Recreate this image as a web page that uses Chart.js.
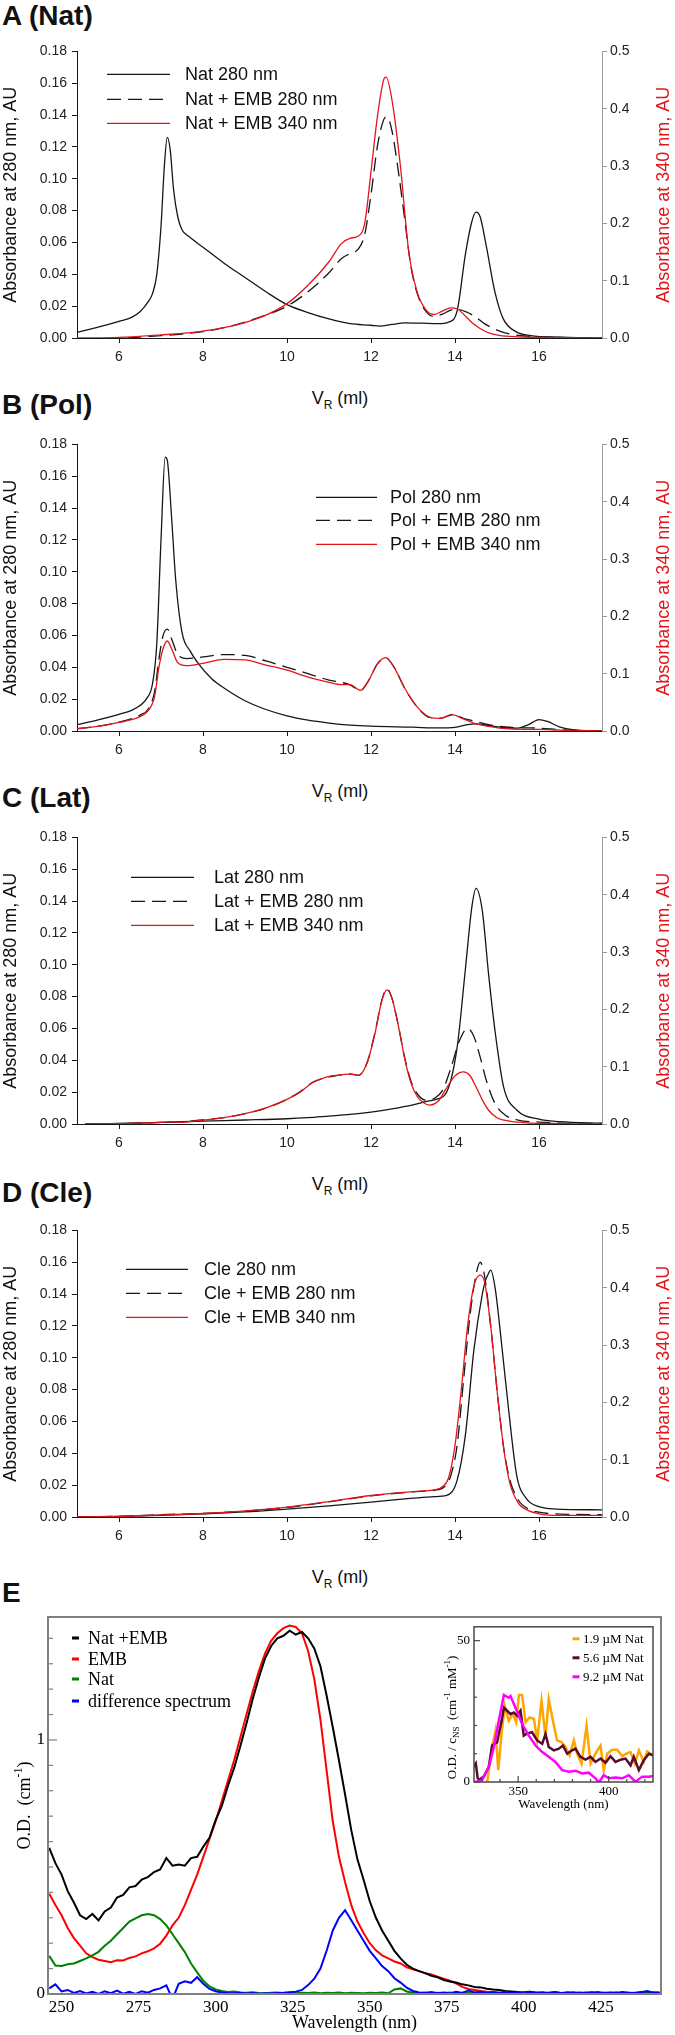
<!DOCTYPE html>
<html>
<head>
<meta charset="utf-8">
<title>SEC profiles and absorption spectra</title>
<script src="https://cdn.jsdelivr.net/npm/chart.js@4.4.1/dist/chart.umd.min.js"></script>
<style>
  body { margin: 0; background: #fff; }
  #page { position: relative; width: 675px; height: 2035px; overflow: hidden; background: #fff; }
  canvas { position: absolute; }
  .panel-label { position: absolute; left: 2px; font: bold 28px "Liberation Sans", Arial, sans-serif; line-height: 28px; color: #111; }
  .vr { position: absolute; left: 240px; width: 200px; text-align: center; font: 18px "Liberation Sans", Arial, sans-serif; line-height: 18px; color: #111; }
  .vr sub { font-size: 12px; vertical-align: -5px; line-height: 0; }
</style>
</head>
<body>
<div id="page">
  <div class="panel-label" style="top:2px">A (Nat)</div>
  <canvas id="chartA" width="675" height="348" style="left:0;top:38px"></canvas>
  <div class="vr" style="top:389px">V<sub>R</sub> (ml)</div>

  <div class="panel-label" style="top:391px">B (Pol)</div>
  <canvas id="chartB" width="675" height="348" style="left:0;top:431px"></canvas>
  <div class="vr" style="top:782px">V<sub>R</sub> (ml)</div>

  <div class="panel-label" style="top:784px">C (Lat)</div>
  <canvas id="chartC" width="675" height="348" style="left:0;top:824px"></canvas>
  <div class="vr" style="top:1175px">V<sub>R</sub> (ml)</div>

  <div class="panel-label" style="top:1179px">D (Cle)</div>
  <canvas id="chartD" width="675" height="348" style="left:0;top:1217px"></canvas>
  <div class="vr" style="top:1568px">V<sub>R</sub> (ml)</div>

  <div class="panel-label" style="top:1579px">E</div>
  <canvas id="chartE" width="675" height="435" style="left:0;top:1600px"></canvas>
  <canvas id="chartInset" width="230" height="205" style="left:430px;top:1615px"></canvas>
</div>

<script>
// ---- tick values ----
const vrTicks = [6, 8, 10, 12, 14, 16];
const abs280Ticks = [0, 0.02, 0.04, 0.06, 0.08, 0.10, 0.12, 0.14, 0.16, 0.18];
const abs340Ticks = [0, 0.1, 0.2, 0.3, 0.4, 0.5];
const waveTicks = [250, 275, 300, 325, 350, 375, 400, 425];
const odTicks = [0, 1];
const odMinorTicks = [0.1, 0.2, 0.3, 0.4, 0.5, 0.6, 0.7, 0.8, 0.9, 1.1, 1.2, 1.3, 1.4];
const insetWaveTicks = [350, 400];
const insetWaveMinor = [330, 340, 360, 370, 380, 390, 410, 420];
const insetTicks = [0, 50];
const insetMinor = [10, 20, 30, 40];

// ---- A (Nat): [V_R ml, absorbance] ----
const nat280 = [[5,0.0035],[5.5,0.0068],[6,0.0105],[6.3,0.013],[6.5,0.0165],[6.7,0.023],[6.8,0.028],[6.9,0.04],[7.0,0.07],[7.08,0.108],[7.15,0.126],[7.22,0.118],[7.3,0.093],[7.4,0.076],[7.5,0.068],[7.65,0.064],[8,0.057],[8.5,0.047],[9,0.038],[9.5,0.029],[10,0.021],[10.5,0.016],[11,0.012],[11.5,0.009],[12,0.008],[12.2,0.0075],[12.5,0.0085],[12.8,0.0095],[13.2,0.0093],[13.6,0.009],[13.85,0.01],[14.05,0.017],[14.25,0.053],[14.4,0.073],[14.5,0.079],[14.6,0.076],[14.75,0.057],[14.95,0.029],[15.15,0.012],[15.45,0.004],[15.8,0.0015],[16.5,0.0005],[17.5,0]];
const natEmb280 = [[6.2,0],[6.5,0.0006],[7,0.0015],[7.5,0.0025],[8,0.004],[8.5,0.0065],[9,0.01],[9.5,0.0145],[10,0.02],[10.5,0.029],[11,0.041],[11.3,0.05],[11.5,0.053],[11.7,0.056],[11.85,0.065],[12,0.09],[12.15,0.12],[12.3,0.137],[12.38,0.139],[12.5,0.13],[12.65,0.105],[12.8,0.075],[12.95,0.045],[13.1,0.028],[13.3,0.017],[13.5,0.0135],[13.7,0.015],[13.9,0.0175],[14.05,0.018],[14.3,0.016],[14.5,0.013],[14.7,0.009],[15,0.005],[15.3,0.0025],[15.7,0.0012],[16.5,0.0004],[17.5,0]];
const natEmb340 = [[5,0],[6,0.001],[7,0.0055],[7.5,0.008],[8,0.012],[8.5,0.018],[9,0.027],[9.5,0.04],[10,0.06],[10.5,0.092],[11,0.133],[11.3,0.165],[11.5,0.174],[11.7,0.178],[11.85,0.2],[12,0.29],[12.15,0.385],[12.3,0.45],[12.36,0.455],[12.5,0.415],[12.7,0.3],[12.9,0.15],[13.1,0.08],[13.3,0.05],[13.5,0.041],[13.7,0.047],[13.9,0.0525],[14.05,0.051],[14.25,0.038],[14.45,0.024],[14.75,0.0105],[15.05,0.0045],[15.5,0.002],[16.5,0.0008],[17.5,0]];

// ---- B (Pol) ----
const pol280 = [[5,0.004],[5.5,0.007],[6,0.0105],[6.3,0.013],[6.5,0.016],[6.65,0.02],[6.8,0.03],[6.9,0.055],[7.0,0.12],[7.1,0.172],[7.15,0.17],[7.25,0.135],[7.35,0.095],[7.5,0.062],[7.7,0.05],[7.9,0.042],[8.2,0.033],[8.5,0.027],[9,0.019],[9.5,0.0135],[10,0.0095],[10.5,0.0068],[11,0.005],[11.5,0.0037],[12,0.003],[13,0.0024],[13.6,0.0019],[14,0.0023],[14.3,0.004],[14.5,0.0045],[14.8,0.0035],[15.2,0.002],[15.5,0.0018],[15.75,0.004],[16,0.0072],[16.2,0.006],[16.5,0.0025],[16.8,0.0008],[17.5,0]];
const polEmb280 = [[5,0.0015],[5.5,0.003],[6,0.0055],[6.5,0.01],[6.7,0.014],[6.85,0.025],[6.95,0.045],[7.05,0.06],[7.15,0.064],[7.25,0.058],[7.4,0.048],[7.6,0.0455],[8,0.0465],[8.5,0.048],[9,0.0475],[9.5,0.044],[10,0.04],[10.5,0.036],[11,0.032],[11.3,0.0305],[11.5,0.029],[11.75,0.0255],[11.95,0.032],[12.15,0.042],[12.35,0.046],[12.55,0.04],[12.8,0.027],[13.1,0.015],[13.4,0.0085],[13.65,0.008],[13.95,0.0105],[14.2,0.008],[14.5,0.006],[14.8,0.004],[15.2,0.0025],[15.6,0.002],[16,0.0018],[16.5,0.0008],[17,0.0002],[17.5,0]];
const polEmb340 = [[5,0.004],[5.5,0.008],[6,0.015],[6.5,0.025],[6.7,0.036],[6.85,0.061],[6.95,0.111],[7.05,0.144],[7.15,0.157],[7.25,0.144],[7.4,0.119],[7.6,0.114],[8,0.118],[8.5,0.125],[9,0.124],[9.5,0.115],[10,0.106],[10.5,0.094],[11,0.085],[11.3,0.081],[11.5,0.081],[11.75,0.071],[11.95,0.089],[12.15,0.117],[12.35,0.128],[12.55,0.111],[12.8,0.075],[13.1,0.042],[13.4,0.024],[13.65,0.022],[13.95,0.028],[14.2,0.021],[14.5,0.0125],[14.8,0.008],[15.2,0.004],[15.6,0.003],[16,0.003],[16.5,0.0014],[17.5,0]];

// ---- C (Lat) ----
const lat280 = [[5.2,0],[6,0.0003],[7,0.001],[8,0.0018],[9,0.0025],[10,0.0033],[10.5,0.004],[11,0.005],[11.5,0.006],[12,0.0075],[12.5,0.0095],[13,0.012],[13.3,0.014],[13.55,0.0155],[13.8,0.02],[14.05,0.048],[14.25,0.098],[14.4,0.136],[14.5,0.148],[14.65,0.134],[14.8,0.094],[14.96,0.057],[15.16,0.023],[15.47,0.0088],[16,0.003],[16.5,0.0015],[17.5,0.0005]];
const latEmb280 = [[5.2,0],[6.5,0.0005],[7,0.001],[7.5,0.0015],[8,0.0025],[8.5,0.004],[9,0.0065],[9.5,0.01],[10,0.0155],[10.3,0.02],[10.6,0.026],[10.9,0.029],[11.2,0.0305],[11.5,0.0315],[11.7,0.0305],[11.9,0.038],[12.1,0.058],[12.25,0.077],[12.38,0.085],[12.5,0.079],[12.65,0.062],[12.8,0.042],[12.95,0.027],[13.1,0.019],[13.3,0.015],[13.5,0.016],[13.7,0.021],[13.9,0.035],[14.1,0.052],[14.3,0.06],[14.45,0.055],[14.6,0.042],[14.75,0.027],[14.95,0.013],[15.2,0.0055],[15.5,0.0025],[16,0.0012],[16.5,0.0006],[17.5,0.0003]];
const latEmb340 = [[5.2,0],[6.5,0.0014],[7,0.003],[7.2,0.004],[7.5,0.003],[8,0.007],[8.5,0.011],[9,0.018],[9.5,0.028],[10,0.043],[10.3,0.055],[10.6,0.072],[10.9,0.081],[11.2,0.085],[11.5,0.087],[11.7,0.085],[11.9,0.105],[12.1,0.16],[12.25,0.213],[12.38,0.234],[12.5,0.219],[12.65,0.172],[12.8,0.115],[12.95,0.072],[13.1,0.048],[13.25,0.037],[13.4,0.033],[13.6,0.04],[13.8,0.063],[14,0.084],[14.2,0.091],[14.35,0.085],[14.5,0.065],[14.65,0.042],[14.8,0.024],[15,0.011],[15.3,0.005],[15.7,0.002],[16.5,0.0008],[17.5,0]];

// ---- D (Cle) ----
const cle280 = [[5,0],[6,0.0004],[7,0.001],[8,0.002],[9,0.0032],[10,0.005],[11,0.007],[12,0.0093],[13,0.0118],[13.5,0.0128],[13.8,0.0136],[14.05,0.023],[14.25,0.052],[14.45,0.105],[14.65,0.14],[14.72,0.148],[14.78,0.152],[14.85,0.155],[14.96,0.143],[15.1,0.111],[15.27,0.069],[15.47,0.026],[15.7,0.0115],[16,0.0065],[16.4,0.005],[17.5,0.0045]];
const cleEmb280 = [[5,0],[6,0.0004],[6.5,0.0008],[7,0.0015],[8,0.0022],[9,0.0037],[10,0.006],[11,0.0095],[12,0.0133],[13,0.0158],[13.5,0.0168],[13.75,0.019],[13.9,0.026],[14.05,0.045],[14.2,0.085],[14.35,0.125],[14.5,0.152],[14.6,0.16],[14.7,0.152],[14.85,0.12],[15,0.08],[15.15,0.045],[15.3,0.024],[15.5,0.011],[15.75,0.005],[16,0.003],[16.5,0.0018],[17.5,0.0015]];
const cleEmb340 = [[5,0],[6,0.001],[7,0.0036],[8,0.0061],[9,0.0106],[10,0.0172],[11,0.027],[12,0.0375],[13,0.0444],[13.5,0.0472],[13.7,0.0528],[13.85,0.069],[14,0.125],[14.15,0.222],[14.3,0.333],[14.45,0.403],[14.6,0.422],[14.7,0.411],[14.85,0.333],[15,0.222],[15.15,0.125],[15.3,0.061],[15.5,0.025],[15.75,0.011],[16,0.0056],[16.5,0.0028],[17.5,0.0028]];

// ---- E: absorption spectra (O.D., cm^-1) ----
const waveE = [246,248,250,252,254,256,258,260,262,264,
  266,268,270,272,274,276,278,280,282,284,
  286,288,290,292,294,296,298,300,302,304,
  306,308,310,312,314,316,318,320,322,324,
  326,328,330,332,334,336,338,340,342,344,
  346,348,350,352,354,356,358,360,362,364,
  366,368,370,372,374,376,378,380,382,384,
  386,388,390,392,394,396,398,400,402,404,
  406,408,410,412,414,416,418,420,422,424,
  426,428,430,432,434,436,438,440,442,444];
const odNatEmb = [0.575,0.515,0.47,0.405,0.36,0.31,0.295,0.315,0.29,0.325,
  0.34,0.38,0.39,0.42,0.425,0.45,0.46,0.48,0.49,0.535,
  0.505,0.51,0.505,0.535,0.54,0.58,0.615,0.685,0.74,0.82,
  0.89,0.975,1.065,1.16,1.245,1.32,1.37,1.40,1.41,1.43,
  1.415,1.425,1.40,1.36,1.29,1.175,1.05,0.92,0.785,0.645,
  0.53,0.45,0.365,0.30,0.25,0.21,0.17,0.14,0.115,0.10,
  0.09,0.082,0.072,0.066,0.055,0.049,0.045,0.038,0.034,0.028,
  0.026,0.021,0.018,0.016,0.012,0.01,0.008,0.007,0.009,0.005,
  0.006,0.004,0.007,0.004,0.006,0.003,0.005,0.004,0.007,0.003,
  0.005,0.004,0.006,0.003,0.005,0.004,0.007,0.004,0.006,0.005];
const odEmb = [0.395,0.35,0.31,0.26,0.22,0.19,0.16,0.145,0.135,0.13,
  0.125,0.133,0.132,0.142,0.148,0.16,0.168,0.18,0.198,0.23,
  0.27,0.30,0.35,0.41,0.47,0.54,0.61,0.68,0.76,0.84,
  0.92,1.01,1.10,1.19,1.27,1.34,1.39,1.42,1.44,1.45,
  1.445,1.42,1.35,1.24,1.08,0.88,0.68,0.54,0.44,0.35,
  0.285,0.24,0.20,0.172,0.152,0.14,0.128,0.12,0.105,0.097,
  0.09,0.082,0.077,0.068,0.06,0.052,0.042,0.028,0.02,0.016,
  0.012,0.009,0.008,0.006,0.007,0.004,0.006,0.003,0.005,0.004,
  0.003,0.005,0.004,0.002,0.005,0.003,0.004,0.002,0.005,0.003,
  0.004,0.003,0.005,0.002,0.004,0.003,0.005,0.003,0.004,0.003];
const odNat = [0.15,0.112,0.11,0.117,0.12,0.13,0.14,0.152,0.166,0.19,
  0.21,0.235,0.26,0.285,0.298,0.31,0.315,0.31,0.295,0.27,
  0.235,0.20,0.165,0.12,0.085,0.052,0.03,0.018,0.012,0.008,
  0.01,0.006,0.005,0.007,0.004,0.003,0.005,0.006,0.004,0.005,
  0.003,0.005,0.004,0.006,0.003,0.005,0.004,0.006,0.003,0.005,
  0.004,0.003,0.005,0.004,0.006,0.003,0.018,0.022,0.01,0.005,
  0.004,0.006,0.003,0.005,0.004,0.006,0.003,0.005,0.004,0.003,
  0.005,0.004,0.006,0.003,0.005,0.004,0.003,0.005,0.004,0.006,
  0.003,0.005,0.004,0.003,0.005,0.004,0.006,0.003,0.005,0.004,
  0.003,0.005,0.004,0.006,0.003,0.005,0.004,0.003,0.005,0.004];
const odDiff = [0.022,0.038,0.01,0.016,0.004,0.012,0.002,0.009,0.0,0.011,
  0.003,0.013,0.001,0.009,0.0,0.011,0.005,0.016,0.022,0.034,
  -0.02,0.04,0.05,0.044,0.066,0.04,0.02,0.011,0.006,0.004,
  0.003,0.005,0.002,0.004,0.001,0.003,0.002,0.004,0.005,0.007,
  0.009,0.016,0.035,0.06,0.1,0.17,0.25,0.30,0.33,0.29,
  0.25,0.21,0.17,0.14,0.11,0.09,0.062,0.045,0.025,0.012,
  0.006,0.004,0.008,0.003,0.006,0.002,0.009,0.004,0.014,0.006,
  0.01,0.004,0.007,0.003,0.008,0.004,0.006,0.002,0.009,0.004,
  0.006,0.003,0.008,0.004,0.005,0.007,0.003,0.006,0.004,0.008,
  0.004,0.006,0.003,0.008,0.005,0.004,0.007,0.012,0.005,0.006];

// ---- E inset: O.D./c_NS vs wavelength ----
const inset19 = [[330.1,-1],[332.8,-0.5],[335.6,12.4],[337.5,18.2],[339,4.2],[340.8,17],[342.6,26.9],[344.8,21.7],[347.1,24],[348.9,21.1],[350.4,30.8],[352.2,30.8],[354.1,21.1],[356.3,22.8],[358.7,22.3],[360.5,14.7],[362.9,28.7],[365.1,15.9],[366.9,29.3],[369.2,21.7],[371.5,14.7],[373.9,14.1],[376.2,12.4],[378.4,9.4],[380.8,14.7],[382.6,10],[385,6.5],[387.8,19.9],[390,6.5],[392.7,10],[395.5,12.9],[397.3,4.2],[399.2,10],[401.9,11.4],[404.7,11.4],[407.5,9.1],[409.7,10],[412.1,10.6],[414.5,6.5],[416.7,11.2],[419.4,7.1],[421.3,10.8],[424.6,9.4]];
const inset56 = [[325.6,5.4],[326.6,6.5],[327.6,1.5],[328.3,0.7],[331,1.9],[333.8,5.4],[335.6,12.9],[338.4,14.1],[341.2,22.8],[342.1,26.3],[343.9,25.2],[345.8,24],[347.6,24.6],[349.4,23.4],[351.3,25.2],[353.1,16.4],[355,17.2],[357.7,17.6],[360.5,14.7],[363.3,13.5],[365.1,17],[366.9,12.4],[369.7,11.2],[372.5,11.8],[374.7,12.9],[377.1,10],[379.8,11.2],[381.7,11.8],[384.4,8.9],[387.2,7.9],[390,8.9],[392.7,7.1],[395.5,8.3],[398.3,6.8],[401,9.1],[403.8,7.1],[406.6,7.9],[409.3,8.3],[412.1,5.9],[413.9,8.9],[416.7,4.2],[419.4,7.7],[422.2,10],[424.6,9.4]];
const inset92 = [[326.4,0],[330.1,0.7],[333.8,5.4],[336.6,12.4],[339.3,21.7],[342.1,30.8],[344.8,29.8],[345.8,30.4],[348.5,26.3],[352.2,20.5],[355.9,16.4],[359.6,12.9],[363.3,10.6],[366.9,8.9],[370.6,7.1],[374.3,4.2],[378,3.6],[381.7,4],[385.4,3],[389,3.3],[392.7,1.3],[394.6,-0.2],[397.3,2.4],[400.1,1.3],[403.8,1.6],[407.5,1.3],[411.1,2.4],[414.8,0.1],[418.5,1.9],[422.2,1.9],[424.6,2.1]];

const sansFont = '"Liberation Sans", Arial, sans-serif';
const serifFont = '"Liberation Serif", "Times New Roman", serif';
const ink = '#161616';
const redLine = '#e3151b';

// legend drawn inside the plot area, from the datasets' own styles
const innerLegend = {
  id: 'innerLegend',
  afterDatasetsDraw(chart, args, o) {
    if (!o || !o.rows) return;
    const ctx = chart.ctx, a = chart.chartArea;
    ctx.save();
    ctx.font = o.font;
    ctx.textBaseline = 'middle';
    chart.data.datasets.forEach((ds, i) => {
      const y = a.top + o.rows[i];
      ctx.strokeStyle = ds.borderColor;
      ctx.lineWidth = o.lineWidth || ds.borderWidth;
      ctx.setLineDash(o.dash && ds.borderDash ? ds.borderDash : []);
      ctx.beginPath();
      ctx.moveTo(a.left + o.x0, y);
      ctx.lineTo(a.left + o.x1, y);
      ctx.stroke();
      ctx.setLineDash([]);
      ctx.fillStyle = o.color;
      ctx.fillText(ds.label, a.left + o.tx, y + 1);
    });
    ctx.restore();
  }
};

// closed frame with inward ticks (grace style), placed through the chart's scales
const boxTicks = {
  id: 'boxTicks',
  beforeDatasetsDraw(chart, args, o) {
    if (!o || !o.fill) return;
    const a = chart.chartArea;
    chart.ctx.save();
    chart.ctx.fillStyle = o.fill;
    chart.ctx.fillRect(a.left, a.top, a.right - a.left, a.bottom - a.top);
    chart.ctx.restore();
  },
  afterDatasetsDraw(chart, args, o) {
    if (!o || !o.frameColor) return;
    const ctx = chart.ctx, a = chart.chartArea;
    const sx = chart.scales.x, sy = chart.scales.y;
    ctx.save();
    ctx.strokeStyle = o.frameColor;
    ctx.lineWidth = 1.2;
    const seg = (x1, y1, x2, y2) => { ctx.beginPath(); ctx.moveTo(x1, y1); ctx.lineTo(x2, y2); ctx.stroke(); };
    (o.yMajor || []).forEach(v => { const y = sy.getPixelForValue(v); seg(a.left, y, a.left + o.majorLen, y); });
    (o.yMinor || []).forEach(v => { const y = sy.getPixelForValue(v); seg(a.left, y, a.left + o.minorLen, y); });
    (o.xMajor || []).forEach(v => { const x = sx.getPixelForValue(v); seg(x, a.bottom, x, a.bottom - o.majorLen); });
    (o.xMinor || []).forEach(v => { const x = sx.getPixelForValue(v); seg(x, a.bottom, x, a.bottom - o.minorLen); });
    ctx.lineWidth = o.frameWidth;
    ctx.strokeRect(a.left, a.top, a.right - a.left, a.bottom - a.top);
    ctx.restore();
  }
};

// axis titles with sub/superscripts, always read bottom-to-top when vertical
const richTitles = {
  id: 'richTitles',
  afterDraw(chart, args, o) {
    if (!o || !o.items) return;
    const ctx = chart.ctx, a = chart.chartArea;
    o.items.forEach(it => {
      const bx = it.from === 'right' ? a.right : it.from === 'center' ? (a.left + a.right) / 2 : a.left;
      const by = it.fromY === 'bottom' ? a.bottom : (a.top + a.bottom) / 2;
      const fontOf = kind => (kind ? it.small : it.size) + 'px ' + it.family;
      const runs = it.parts.map(p => ({ text: p[0], kind: p[1] || '' }));
      ctx.save();
      ctx.translate(bx + it.dx, by + it.dy);
      if (it.vertical) ctx.rotate(-Math.PI / 2);
      ctx.fillStyle = it.color;
      ctx.textBaseline = 'middle';
      ctx.textAlign = 'left';
      let total = 0;
      runs.forEach(r => { ctx.font = fontOf(r.kind); r.w = ctx.measureText(r.text).width; total += r.w; });
      let x = -total / 2;
      runs.forEach(r => {
        ctx.font = fontOf(r.kind);
        const shift = r.kind === 'sub' ? it.size * 0.3 : r.kind === 'sup' ? -it.size * 0.35 : 0;
        ctx.fillText(r.text, x, shift);
        x += r.w;
      });
      ctx.restore();
    });
  }
};

function secSet(label, pts, color, dash, axis, order) {
  return {
    label, data: pts.map(p => ({ x: p[0], y: p[1] })),
    borderColor: color, borderWidth: 1.3, borderDash: dash,
    pointRadius: 0, fill: false, cubicInterpolationMode: 'monotone',
    yAxisID: axis, order
  };
}

function secChart(id, name, series, legend) {
  new Chart(document.getElementById(id), {
    type: 'line',
    data: {
      datasets: [
        secSet(name + ' 280 nm', series[0], ink, [], 'y', 1),
        secSet(name + ' + EMB 280 nm', series[1], ink, [14, 7], 'y', 2),
        secSet(name + ' + EMB 340 nm', series[2], redLine, [], 'y2', 0)
      ]
    },
    options: {
      responsive: false, animation: false, devicePixelRatio: 1,
      layout: { padding: { top: 12, left: 0, right: 0, bottom: 0 } },
      plugins: {
        legend: { display: false }, tooltip: { enabled: false },
        innerLegend: Object.assign({ font: '18px ' + sansFont, color: '#111', lineWidth: 1.3, dash: true }, legend),
        richTitles: { items: [
          { parts: [['Absorbance at 340 nm, AU']], vertical: true, from: 'right', dx: 62, dy: 0, size: 18, small: 12, family: sansFont, color: redLine }
        ] }
      },
      scales: {
        x: {
          type: 'linear', position: 'bottom', min: 5, max: 17.5,
          afterBuildTicks: s => { s.ticks = vrTicks.map(v => ({ value: v })); },
          afterFit: s => { s.height = 48; },
          border: { color: ink, width: 1 },
          grid: { drawOnChartArea: false, tickLength: 5, color: ink },
          ticks: { padding: 6, color: '#222', autoSkip: false, maxRotation: 0, font: { family: sansFont, size: 14 }, callback: v => String(v) }
        },
        y: {
          position: 'left', min: 0, max: 0.18,
          afterBuildTicks: s => { s.ticks = abs280Ticks.map(v => ({ value: v })); },
          afterFit: s => { s.width = 77; },
          border: { color: ink, width: 1 },
          grid: { drawOnChartArea: false, tickLength: 5, color: ink },
          ticks: { padding: 5, color: '#222', autoSkip: false, font: { family: sansFont, size: 14 }, callback: v => v.toFixed(2) },
          title: { display: true, text: 'Absorbance at 280 nm, AU', color: '#111', font: { family: sansFont, size: 18 }, padding: 0 }
        },
        y2: {
          position: 'right', min: 0, max: 0.5,
          afterBuildTicks: s => { s.ticks = abs340Ticks.map(v => ({ value: v })); },
          afterFit: s => { s.width = 73; },
          border: { color: '#9a9a9a', width: 1 },
          grid: { drawOnChartArea: false, tickLength: 5, color: '#9a9a9a' },
          ticks: { padding: 3, color: '#222', autoSkip: false, font: { family: sansFont, size: 14 }, callback: v => v.toFixed(1) }
        }
      }
    },
    plugins: [innerLegend, richTitles]
  });
}

secChart('chartA', 'Nat', [nat280, natEmb280, natEmb340], { x0: 30, x1: 93, tx: 108, rows: [23, 48, 72] });
secChart('chartB', 'Pol', [pol280, polEmb280, polEmb340], { x0: 239, x1: 300, tx: 313, rows: [53, 76, 100] });
secChart('chartC', 'Lat', [lat280, latEmb280, latEmb340], { x0: 54, x1: 117, tx: 137, rows: [40, 64, 88] });
secChart('chartD', 'Cle', [cle280, cleEmb280, cleEmb340], { x0: 49, x1: 111, tx: 127, rows: [39, 63, 87] });

// ---- E main spectra ----
function specSet(label, ys, color, order) {
  return {
    label, data: waveE.map((w, i) => ({ x: w, y: ys[i] })),
    borderColor: color, borderWidth: 2, pointRadius: 0, fill: false, tension: 0, order
  };
}

const noGrid = { display: false, drawTicks: false };

new Chart(document.getElementById('chartE'), {
  type: 'line',
  data: {
    datasets: [
      specSet('Nat +EMB', odNatEmb, '#000000', 2),
      specSet('EMB', odEmb, '#ff0000', 3),
      specSet('Nat', odNat, '#008000', 1),
      specSet('difference spectrum', odDiff, '#0000ff', 0)
    ]
  },
  options: {
    responsive: false, animation: false, devicePixelRatio: 1,
    layout: { padding: { top: 17, right: 14, left: 0, bottom: 0 } },
    plugins: {
      legend: { display: false }, tooltip: { enabled: false },
      innerLegend: { x0: 24, x1: 31, tx: 40, rows: [21, 42, 62, 84], font: '18px ' + serifFont, color: '#000', lineWidth: 3 },
      boxTicks: { frameColor: '#808080', frameWidth: 2, yMajor: odTicks, yMinor: odMinorTicks, majorLen: 9, minorLen: 5 },
      richTitles: { items: [
        { parts: [['Wavelength (nm)']], from: 'center', fromY: 'bottom', dx: 0, dy: 29, size: 18, small: 12, family: serifFont, color: '#000' },
        { parts: [['O.D.  (cm'], ['-1', 'sup'], [')']], vertical: true, from: 'left', dx: -23, dy: 0, size: 18, small: 12, family: serifFont, color: '#000' }
      ] }
    },
    scales: {
      x: {
        type: 'linear', min: 245.6, max: 444.5,
        afterBuildTicks: s => { s.ticks = waveTicks.map(v => ({ value: v })); },
        afterFit: s => { s.height = 41; },
        border: { display: false }, grid: noGrid,
        ticks: { padding: 3, color: '#000', autoSkip: false, maxRotation: 0, font: { family: serifFont, size: 17 } }
      },
      y: {
        min: 0, max: 1.484,
        afterBuildTicks: s => { s.ticks = odTicks.map(v => ({ value: v })); },
        afterFit: s => { s.width = 48; },
        border: { display: false }, grid: noGrid,
        ticks: { padding: 3, color: '#000', font: { family: serifFont, size: 17 }, callback: v => String(v) }
      }
    }
  },
  plugins: [boxTicks, innerLegend, richTitles]
});

// ---- E inset ----
function insetSet(label, pts, color, order) {
  return {
    label, data: pts.map(p => ({ x: p[0], y: p[1] })),
    borderColor: color, borderWidth: 2.5, pointRadius: 0, fill: false, tension: 0, order
  };
}

new Chart(document.getElementById('chartInset'), {
  type: 'line',
  data: {
    datasets: [
      insetSet('1.9 \u00B5M Nat', inset19, '#ffa500', 2),
      insetSet('5.6 \u00B5M Nat', inset56, '#5a0a2c', 1),
      insetSet('9.2 \u00B5M Nat', inset92, '#ff00ff', 0)
    ]
  },
  options: {
    responsive: false, animation: false, devicePixelRatio: 1,
    layout: { padding: { top: 10, right: 7, left: 0, bottom: 0 } },
    plugins: {
      legend: { display: false }, tooltip: { enabled: false },
      innerLegend: { x0: 98.5, x1: 105.5, tx: 109, rows: [12, 31, 50], font: '13px ' + serifFont, color: '#000', lineWidth: 3 },
      boxTicks: { fill: '#ffffff', frameColor: '#4a4a4a', frameWidth: 1.5, yMajor: insetTicks, yMinor: insetMinor, xMajor: insetWaveTicks, xMinor: insetWaveMinor, majorLen: 6, minorLen: 3 },
      richTitles: { items: [
        { parts: [['Wavelength (nm)']], from: 'center', fromY: 'bottom', dx: 0, dy: 23, size: 13, small: 9, family: serifFont, color: '#000' },
        { parts: [['O.D. / c'], ['NS', 'sub'], ['  (cm'], ['-1', 'sup'], [' mM'], ['-1', 'sup'], [')']], vertical: true, from: 'left', dx: -21.5, dy: 13, size: 13, small: 9, family: serifFont, color: '#000' }
      ] }
    },
    scales: {
      x: {
        type: 'linear', min: 325.6, max: 424.5,
        afterBuildTicks: s => { s.ticks = insetWaveTicks.map(v => ({ value: v })); },
        afterFit: s => { s.height = 38; },
        border: { display: false }, grid: noGrid,
        ticks: { padding: 2, color: '#000', autoSkip: false, maxRotation: 0, font: { family: serifFont, size: 13 } }
      },
      y: {
        min: 0, max: 54.9,
        afterBuildTicks: s => { s.ticks = insetTicks.map(v => ({ value: v })); },
        afterFit: s => { s.width = 44; },
        border: { display: false }, grid: noGrid,
        ticks: { padding: 4, color: '#000', font: { family: serifFont, size: 13 }, callback: v => String(v) }
      }
    }
  },
  plugins: [boxTicks, innerLegend, richTitles]
});
</script>
</body>
</html>
